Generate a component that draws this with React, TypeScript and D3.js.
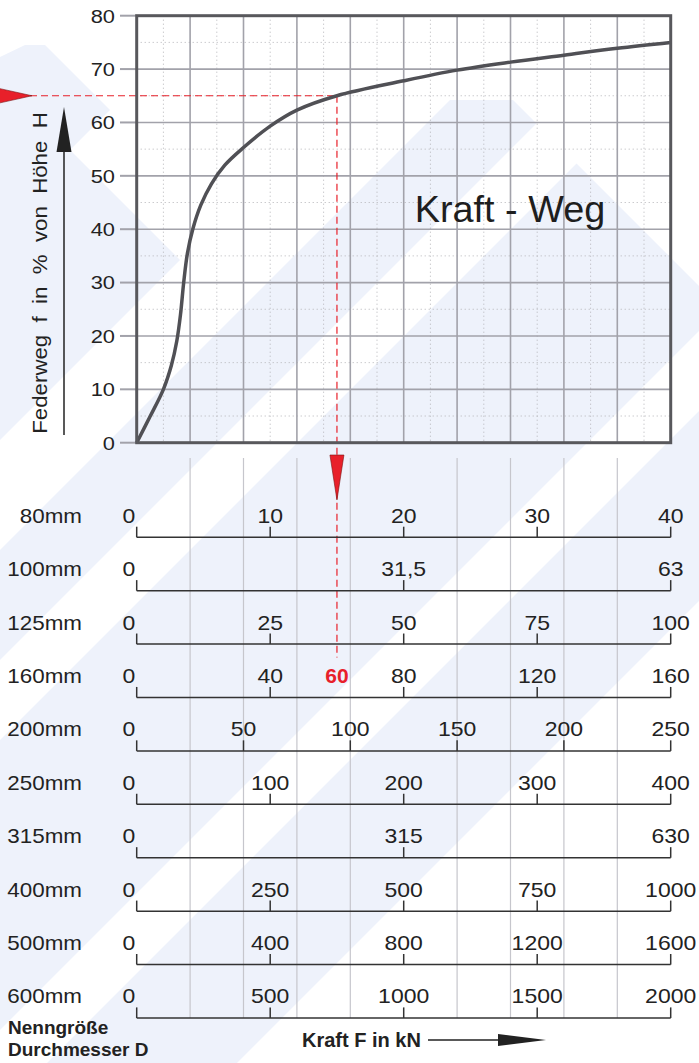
import * as d3 from 'd3';
import type { ReactNode } from 'react';

// curve: force in % of the nominal max force, travel in % of height H
const curveForce = [0, 2.5, 5, 6.5, 7.5, 8.2, 8.8, 9.5, 10.5, 12, 14, 16.5, 20, 25, 30, 37.5, 50, 60, 70, 80, 90, 100];
const curveTravel = [0, 4.9, 10, 14.5, 19, 24, 30, 35.5, 40, 44.5, 48.5, 52, 55.3, 59.3, 62.3, 65, 67.8, 69.8, 71.3, 72.6, 73.9, 75];

const yTicks = [0, 10, 20, 30, 40, 50, 60, 70, 80];

const sizes = ['80mm', '100mm', '125mm', '160mm', '200mm', '250mm', '315mm', '400mm', '500mm', '600mm'];
const maxForce = [40, 63, 100, 160, 250, 400, 630, 1000, 1600, 2000];
const rowTicks = [
  [0, 10, 20, 30, 40],
  [0, 31.5, 63],
  [0, 25, 50, 75, 100],
  [0, 40, 80, 120, 160],
  [0, 50, 100, 150, 200, 250],
  [0, 100, 200, 300, 400],
  [0, 315, 630],
  [0, 250, 500, 750, 1000],
  [0, 400, 800, 1200, 1600],
  [0, 500, 1000, 1500, 2000],
];

// light guide lines below the plot (in % of max force)
const guideLines = [10, 20, 30, 40, 60, 70, 80, 90];

// example reading: 60 kN on the 160mm scale -> 65 %
const readRow = 3;
const readForce = 60;
const readTravel = 65;

const W = 699;
const H = 1063;
const font = 'Liberation Sans, Arial, Helvetica, sans-serif';
const blue = '#eef2fb';
const red = '#e8202a';

// text that is a bit wider than the font, like the original artwork
function T(props: {
  x: number;
  y: number;
  size: number;
  anchor?: string;
  sx?: number;
  weight?: string;
  fill?: string;
  dy?: string;
  children: ReactNode;
}) {
  const { x, y, size, anchor = 'start', sx = 1.15, weight = 'normal', fill = '#222', dy, children } = props;
  return (
    <g transform={`translate(${x},${y}) scale(${sx},1)`}>
      <text textAnchor={anchor} fontSize={size} fontWeight={weight} fill={fill} dy={dy}>
        {children}
      </text>
    </g>
  );
}

export default function App() {
  const x = d3.scaleLinear().domain([0, 100]).range([136.7, 670.7]);
  const y = d3.scaleLinear().domain([0, 80]).range([442.7, 15.7]);
  const rowY = d3.scaleLinear().domain([0, 9]).range([537.3, 1018]);

  const line = d3
    .line<number>()
    .x((_, i) => x(curveForce[i]))
    .y((d) => y(d))
    .curve(d3.curveCatmullRom.alpha(0.5));

  const minorX = d3.range(5, 100, 10);
  const majorX = d3.range(10, 100, 10);
  const minorY = d3.range(5, 80, 10);
  const majorY = d3.range(10, 80, 10);

  const readScale = d3.scaleLinear().domain([0, maxForce[readRow]]).range(x.range());
  const rx = readScale(readForce);
  const ry = y(readTravel);

  const fmt = (v: number) => String(v).replace('.', ',');

  return (
    <svg width={W} height={H} style={{ position: 'absolute', left: 0, top: 0 }} fontFamily={font}>
      <rect width={W} height={H} fill="#fff" />
      {/* watermark */}
      <polygon points="450,100 513,100 699,286 699,1063 0,1063 0,550" fill={blue} />
      <polygon points="0,170 40,140 60,140 180,260 0,440" fill={blue} />
      <polygon points="0,57 25,45 45,45 110,110 0,220" fill={blue} />
      <polygon points="0,470 470,0 540,0 0,540" fill="#fff" opacity={0.85} />
      <polygon points="0,660 660,0 740,0 0,740" fill="#fff" />
      <polygon points="0,1030 1030,0 1110,0 0,1110" fill="#fff" />
      <polygon points="0,1300 1300,0 2000,0 2000,2000 0,2000" fill="#fff" />

      {/* grid */}
      {minorX.map((v) => (
        <line key={'mx' + v} x1={x(v)} x2={x(v)} y1={y(80)} y2={y(0)} stroke="#b4b4b8" strokeWidth={1} strokeDasharray="1,3" />
      ))}
      {minorY.map((v) => (
        <line key={'my' + v} x1={x(0)} x2={x(100)} y1={y(v)} y2={y(v)} stroke="#b4b4b8" strokeWidth={1} strokeDasharray="1,3" />
      ))}
      {majorX.map((v) => (
        <line key={'Mx' + v} x1={x(v)} x2={x(v)} y1={y(80)} y2={y(0)} stroke="#a2a2aa" strokeWidth={1.6} />
      ))}
      {majorY.map((v) => (
        <line key={'My' + v} x1={x(0)} x2={x(100)} y1={y(v)} y2={y(v)} stroke="#a2a2aa" strokeWidth={1.6} />
      ))}

      {/* y ticks */}
      {yTicks.map((v) => (
        <g key={'yt' + v}>
          <line x1={120} x2={x(0)} y1={y(v)} y2={y(v)} stroke="#a2a2aa" strokeWidth={2} />
          <T x={115} y={y(v)} dy="0.36em" anchor="end" size={19}>
            {v}
          </T>
        </g>
      ))}

      {/* red reading lines */}
      <line x1={30} x2={rx} y1={ry} y2={ry} stroke={red} strokeWidth={1.2} strokeDasharray="7,4" />
      <line x1={rx} x2={rx} y1={ry} y2={rowY(readRow) - 40} stroke={red} strokeWidth={1.2} strokeDasharray="7,4" />

      {/* curve */}
      <path d={line(curveTravel) ?? ''} fill="none" stroke="#505055" strokeWidth={3.5} />

      {/* border */}
      <rect x={x(0)} y={y(80)} width={x(100) - x(0)} height={y(0) - y(80)} fill="none" stroke="#58585c" strokeWidth={3} />

      <T x={510} y={222} size={36} anchor="middle" sx={1.05} fill="#1e1e1e">
        Kraft - Weg
      </T>

      {/* red pointers */}
      <polygon points={`-4,${ry - 8} 32,${ry} -4,${ry + 8}`} fill={red} stroke="#7a1010" strokeWidth={0.6} />
      <polygon points={`${rx - 7},455 ${rx + 7},455 ${rx},500`} fill={red} stroke="#7a1010" strokeWidth={0.6} />

      {/* y axis title & arrow */}
      <g transform={`translate(47,${(113 + 433) / 2}) rotate(-90) scale(1.06,1)`}>
        <text textAnchor="middle" fontSize={21} fill="#222" style={{ whiteSpace: 'pre' }}>
          {'Federweg  f  in  %  von  Höhe  H'}
        </text>
      </g>
      <line x1={64} x2={64} y1={435} y2={150} stroke="#222" strokeWidth={1.5} />
      <polygon points="64,107 71.5,152 56.5,152" fill="#222" />

      {/* guide lines below plot */}
      {guideLines.map((v) => (
        <line key={'g' + v} x1={x(v)} x2={x(v)} y1={458} y2={rowY(9)} stroke="#c6c6cc" strokeWidth={1.2} />
      ))}

      {/* force scales */}
      {sizes.map((s, i) => {
        const sx = d3.scaleLinear().domain([0, maxForce[i]]).range(x.range());
        const ay = rowY(i);
        return (
          <g key={s}>
            <T x={82} y={ay - 14.6} anchor="end" size={20} sx={1.12}>
              {s}
            </T>
            <line x1={sx(0)} x2={sx(maxForce[i])} y1={ay} y2={ay} stroke="#333" strokeWidth={1.5} />
            {rowTicks[i].map((t) => (
              <g key={t}>
                <line x1={sx(t)} x2={sx(t)} y1={ay} y2={ay - 10.6} stroke="#333" strokeWidth={1.5} />
                <T x={t === 0 ? sx(t) - 1.5 : sx(t)} y={ay - 14.6} anchor={t === 0 ? 'end' : 'middle'} size={20}>
                  {fmt(t)}
                </T>
              </g>
            ))}
            {i === readRow && (
              <T x={sx(readForce)} y={ay - 14.6} anchor="middle" size={20} weight="bold" fill={red} sx={1.05}>
                {readForce}
              </T>
            )}
          </g>
        );
      })}

      {/* bottom labels */}
      <text x={8} y={1034} fontSize={19} fontWeight="bold" fill="#222">
        Nenngröße
      </text>
      <text x={8} y={1056} fontSize={19} fontWeight="bold" fill="#222">
        Durchmesser D
      </text>
      <text x={302} y={1047} fontSize={20} fontWeight="bold" fill="#222">
        Kraft F in kN
      </text>
      <line x1={428} x2={520} y1={1040} y2={1040} stroke="#222" strokeWidth={1.5} />
      <polygon points="498,1034 546,1040 498,1046" fill="#222" />
    </svg>
  );
}
